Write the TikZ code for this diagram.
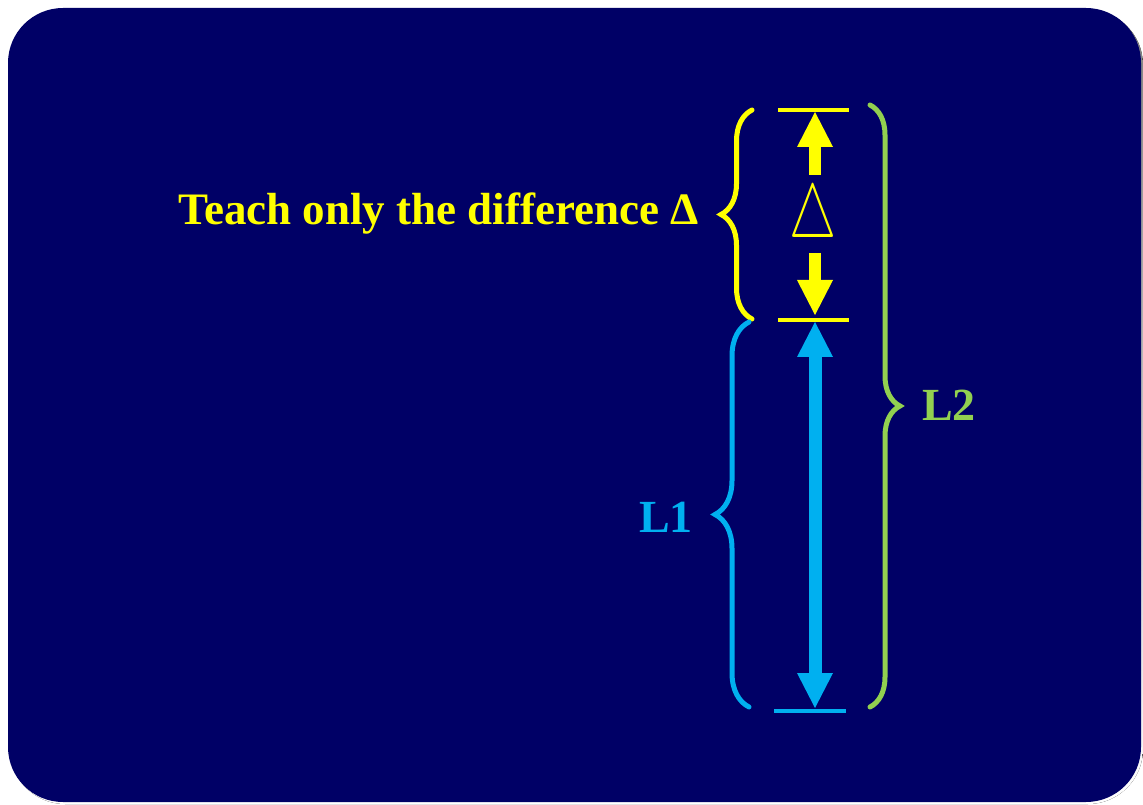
\documentclass[tikz,border=0pt]{standalone}
\usepackage{fontspec}
\setmainfont{Liberation Serif}
\usetikzlibrary{
  arrows.meta,
  decorations.pathreplacing,
  positioning
}
\definecolor{navy}{HTML}{000066}
\definecolor{shade}{HTML}{B4B4B4}
\definecolor{delta}{HTML}{FFFF00}
\definecolor{lenone}{HTML}{00B0F0}
\definecolor{lentwo}{HTML}{92D050}
\tikzset{
  panel/.style={
    fill=navy,
    rounded corners=55pt
  },
  levelbar/.style={
    line width=4.5pt
  },
  onearrow/.style={
    -{Triangle[width=36pt,length=35pt,line width=0pt]},
    line width=12pt
  },
  twoarrow/.style={
    {Triangle[width=36pt,length=35pt,line width=0pt]}-{Triangle[width=36pt,length=35pt,line width=0pt]},
    line width=13pt
  },
  bracket/.style={
    decorate,
    decoration={brace, amplitude=#1},
    line width=5pt,
    line cap=round
  },
  lenlabel/.style={
    font=\fontsize{46}{50}\selectfont\bfseries,
    inner sep=0pt
  }
}

\begin{document}
\begin{tikzpicture}[x=1pt, y=1pt]
  \useasboundingbox (0,0) rectangle (1143,804);
  \fill[shade, rounded corners=55pt] (10,0) rectangle (1143,794);
  \fill[panel] (8,2) rectangle (1141,796);

  % levels of the ruler
  \coordinate (top) at (815,694);
  \coordinate (mid) at (815,484);
  \coordinate (base) at (815,93);
  \coordinate (upfrom) at (815,629);
  \coordinate (downfrom) at (815,551);

  \draw[levelbar, draw=delta] ([xshift=-37pt]top) -- ([xshift=34pt]top);
  \draw[levelbar, draw=delta] ([xshift=-37pt]mid) -- ([xshift=34pt]mid);
  \draw[levelbar, draw=lenone] ([xshift=-41pt]base) -- ([xshift=31pt]base);

  \draw[onearrow, draw=delta, fill=delta] (upfrom) -- ([yshift=-2pt]top);
  \draw[onearrow, draw=delta, fill=delta] (downfrom) -- ([yshift=5pt]mid);
  \draw[twoarrow, draw=lenone, fill=lenone] ([yshift=-2pt]mid) -- ([yshift=3pt]base);

  \node[text=delta, xscale=5.3, yscale=7.6, inner sep=0pt] (tri) at (813,585)
    {$\triangle$};

  % braces
  \draw[bracket=31pt, draw=delta] (752,485) -- (752,694);
  \draw[bracket=34pt, draw=lenone] (749,97) -- (749,482);
  \draw[bracket=30pt, draw=lentwo] (870,699) -- (870,97);

  \node[lenlabel, text=delta, anchor=base east, font=\fontsize{45}{50}\selectfont\bfseries]
    (teach) at (699,579) {Teach only the difference Δ};
  \node[lenlabel, text=lenone, anchor=base east] (l1) at (693,272) {L1};
  \node[lenlabel, text=lentwo, anchor=base west] (l2) at (922,383) {L2};
\end{tikzpicture}
\end{document}
